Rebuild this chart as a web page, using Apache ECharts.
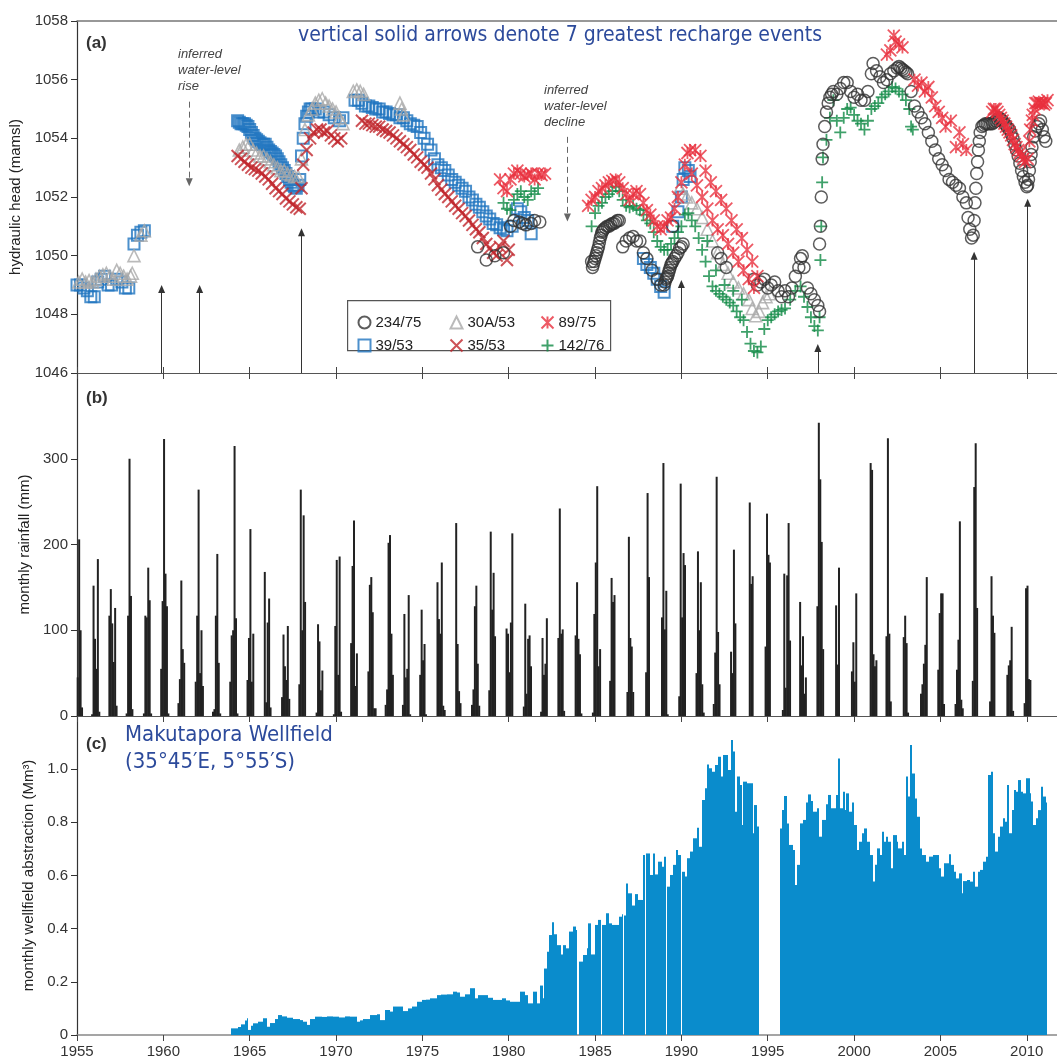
<!DOCTYPE html>
<html>
<head>
<meta charset="utf-8">
<script src="https://cdn.jsdelivr.net/npm/echarts@6/dist/echarts.min.js"></script>
<style>
html,body{margin:0;padding:0;background:#fff;}
#main{width:1057px;height:1061px;}
</style>
</head>
<body>
<div id="main"></div>
<script>
// ---- panel (a): hydraulic head, [decimal year, mamsl] ----
var head39 = [[1955.0,1049.0],[1955.2,1049.0],[1955.4,1048.9],[1955.6,1048.8],[1955.8,1048.6],[1956.0,1048.6],[1956.2,1049.1],[1956.4,1049.2],[1956.6,1049.3],[1956.8,1049.0],[1957.0,1049.0],[1957.3,1049.2],[1957.6,1049.1],[1957.8,1048.9],[1958.0,1048.9],[1958.3,1050.4],[1958.5,1050.7],[1958.7,1050.8],[1958.9,1050.85],
  [1964.3,1054.6],[1964.4,1054.55],[1964.5,1054.5],[1964.6,1054.5],[1964.7,1054.5],[1964.8,1054.45],[1964.9,1054.4],[1965.0,1054.3],[1965.1,1054.2],[1965.2,1054.1],[1965.3,1054.0],[1965.4,1053.95],[1965.5,1053.9],[1965.6,1053.85],[1965.7,1053.8],[1965.8,1053.8],[1965.9,1053.8],[1966.0,1053.7],[1966.1,1053.6],[1966.2,1053.55],[1966.3,1053.5],[1966.4,1053.45],[1966.5,1053.4],[1966.6,1053.3],[1966.7,1053.2],[1966.8,1053.1],[1966.9,1053.0],[1967.0,1052.9],[1967.1,1052.8],[1967.2,1052.7],[1967.3,1052.6],[1967.4,1052.5],[1967.5,1052.4],[1967.6,1052.35],[1967.7,1052.3],[1967.8,1052.4],[1967.9,1052.6],[1968.0,1053.4],[1968.1,1054.0],[1968.2,1054.5],[1968.3,1054.75],[1968.4,1054.9],[1968.5,1055.0],[1968.6,1055.0],[1968.8,1055.0],[1969.0,1054.9],[1969.3,1054.9],[1969.6,1054.8],[1969.9,1054.7],[1970.2,1054.6],[1970.4,1054.7],
  [1971.1,1055.3],[1971.3,1055.3],[1971.5,1055.2],[1971.7,1055.1],[1971.9,1055.1],[1972.1,1055.05],[1972.3,1055.0],[1972.5,1055.0],[1972.7,1054.9],[1972.9,1054.9],[1973.1,1054.85],[1973.3,1054.8],[1973.5,1054.8],[1973.7,1054.7],[1973.9,1054.7],[1974.1,1054.6],[1974.3,1054.5],[1974.5,1054.45],[1974.7,1054.4],[1974.9,1054.2],[1975.1,1054.0],[1975.3,1053.8],[1975.5,1053.6],[1975.7,1053.3],[1975.9,1053.1],[1976.1,1053.0],[1976.3,1052.9],[1976.5,1052.75],[1976.7,1052.6],[1976.9,1052.5],[1977.1,1052.4],[1977.3,1052.3],[1977.5,1052.2],[1977.7,1052.0],[1977.9,1051.9],[1978.1,1051.75],[1978.3,1051.65],[1978.5,1051.5],[1978.7,1051.35],[1978.9,1051.25],[1979.1,1051.1],[1979.3,1051.05],[1979.5,1050.95],[1979.7,1050.9],[1979.9,1050.85],[1980.2,1051.0],[1980.5,1051.6],[1980.7,1051.5],[1980.9,1051.3],[1981.1,1051.2],[1981.3,1050.75],
  [1987.8,1049.9],[1988.0,1049.7],[1988.2,1049.6],[1988.4,1049.4],[1988.6,1049.2],[1988.8,1048.95],[1989.0,1048.75],[1989.5,1051.0],[1989.8,1051.5],[1990.0,1052.0],[1990.1,1052.6],[1990.2,1053.0],[1990.4,1052.9],[1990.5,1052.7]];

var head30A = [[1955.1,1049.1],[1955.3,1049.2],[1955.5,1049.1],[1955.7,1049.15],[1955.9,1049.1],[1956.1,1049.2],[1956.3,1049.3],[1956.5,1049.35],[1956.7,1049.4],[1956.9,1049.3],[1957.1,1049.2],[1957.3,1049.5],[1957.5,1049.4],[1957.7,1049.3],[1957.9,1049.2],[1958.1,1049.3],[1958.2,1049.4],[1958.3,1050.0],[1958.7,1050.7],[1958.9,1050.85],
  [1964.4,1053.6],[1964.6,1053.7],[1964.8,1053.8],[1965.0,1053.8],[1965.2,1053.6],[1965.4,1053.5],[1965.6,1053.4],[1965.8,1053.4],[1966.0,1053.3],[1966.2,1053.2],[1966.4,1053.1],[1966.6,1053.0],[1966.8,1052.9],[1967.0,1052.9],[1967.2,1052.8],[1967.4,1052.75],[1967.6,1052.7],[1967.8,1052.7],[1968.0,1053.3],[1968.2,1054.3],[1968.4,1054.8],[1968.6,1055.0],[1968.8,1055.2],[1969.0,1055.3],[1969.2,1055.35],[1969.4,1055.2],[1969.6,1055.1],[1969.8,1055.0],[1970.0,1054.9],[1970.2,1054.7],[1970.4,1054.5],
  [1971.0,1055.6],[1971.2,1055.65],[1971.4,1055.6],[1971.6,1055.5],[1973.7,1055.2],[1973.8,1055.0],[1973.9,1054.8],
  [1989.9,1052.3],[1990.1,1052.1],[1990.3,1052.0],[1990.6,1051.8],[1990.9,1051.6],[1991.2,1051.3],[1991.5,1050.9],[1991.8,1050.5],[1992.1,1050.1],[1992.4,1049.7],[1992.7,1049.4],[1993.0,1049.1],[1993.3,1048.9],[1993.6,1048.7],[1993.9,1048.5],[1994.1,1048.2],[1994.3,1047.95],[1994.5,1048.1],[1994.7,1048.4],[1994.9,1048.6],[1995.1,1048.7]];

var head35 = [[1964.3,1053.4],[1964.5,1053.3],[1964.7,1053.2],[1964.9,1053.1],[1965.1,1053.0],[1965.3,1052.95],[1965.5,1052.9],[1965.7,1052.8],[1965.9,1052.7],[1966.1,1052.6],[1966.3,1052.45],[1966.5,1052.3],[1966.7,1052.2],[1966.9,1052.1],[1967.1,1051.95],[1967.3,1051.85],[1967.5,1051.75],[1967.7,1051.65],[1967.9,1051.6],[1968.0,1052.3],[1968.1,1053.1],[1968.3,1053.6],[1968.5,1054.0],[1968.7,1054.2],[1968.9,1054.3],[1969.1,1054.3],[1969.3,1054.2],[1969.5,1054.25],[1969.7,1054.1],[1969.9,1054.0],[1970.1,1053.9],[1970.3,1054.0],
  [1971.5,1054.6],[1971.7,1054.5],[1971.9,1054.5],[1972.1,1054.45],[1972.3,1054.4],[1972.5,1054.4],[1972.7,1054.3],[1972.9,1054.25],[1973.1,1054.2],[1973.3,1054.1],[1973.5,1054.0],[1973.7,1053.9],[1973.9,1053.8],[1974.1,1053.7],[1974.3,1053.6],[1974.5,1053.45],[1974.7,1053.35],[1974.9,1053.2],[1975.1,1053.1],[1975.3,1053.0],[1975.5,1052.8],[1975.7,1052.6],[1975.9,1052.4],[1976.1,1052.25],[1976.3,1052.1],[1976.5,1052.0],[1976.7,1051.85],[1976.9,1051.7],[1977.1,1051.6],[1977.3,1051.45],[1977.5,1051.35],[1977.7,1051.2],[1977.9,1051.05],[1978.1,1050.9],[1978.3,1050.8],[1978.5,1050.6],[1978.7,1050.4],[1978.9,1050.25],[1979.1,1050.1],[1979.3,1050.0],[1979.5,1050.3],[1979.7,1050.5],[1979.9,1049.85],[1980.0,1050.2]];

var head234 = [[1978.2,1050.3],[1978.7,1049.85],[1979.2,1050.0],[1979.7,1050.1],[1980.1,1051.0],[1980.3,1051.2],[1980.6,1051.15],[1980.8,1051.1],[1981.0,1051.05],[1981.3,1051.1],[1981.5,1051.2],[1981.8,1051.15],
  [1984.8,1049.8],[1984.85,1049.6],[1984.9,1049.7],[1984.95,1049.8],[1985.0,1049.9],[1985.05,1050.0],[1985.1,1050.1],[1985.15,1050.2],[1985.2,1050.3],[1985.25,1050.45],[1985.3,1050.6],[1985.35,1050.7],[1985.4,1050.8],[1985.45,1050.85],[1985.5,1050.9],[1985.6,1050.95],[1985.7,1051.0],[1985.8,1051.0],[1985.9,1051.05],[1986.0,1051.1],[1986.1,1051.1],[1986.2,1051.15],[1986.3,1051.2],[1986.4,1051.2],
  [1986.6,1050.3],[1986.8,1050.5],[1987.0,1050.6],[1987.2,1050.65],[1987.4,1050.5],[1987.6,1050.5],[1987.8,1050.1],[1988.0,1049.9],[1988.3,1049.5],[1988.6,1049.2],[1988.8,1049.0],
  [1989.0,1049.0],[1989.05,1049.1],[1989.1,1049.2],[1989.15,1049.25],[1989.2,1049.3],[1989.25,1049.4],[1989.3,1049.5],[1989.35,1049.6],[1989.4,1049.7],[1989.45,1049.75],[1989.5,1049.8],[1989.6,1049.9],[1989.7,1050.0],[1989.8,1050.1],[1989.9,1050.25],[1990.0,1050.3],[1990.1,1050.4],[1989.5,1051.0],
  [1992.1,1050.1],[1992.3,1049.9],[1992.6,1049.6],[1994.2,1049.2],[1994.4,1049.0],[1994.6,1049.1],[1994.8,1049.2],[1995.0,1048.9],[1995.2,1049.0],[1995.4,1049.1],[1995.6,1048.8],[1995.8,1048.6],[1996.0,1048.8],[1996.2,1048.6],[1996.4,1048.9],[1996.6,1049.3],[1996.8,1049.6],[1996.9,1049.9],[1997.0,1050.0],[1997.1,1049.6],[1997.3,1048.9],[1997.5,1048.7],[1997.7,1048.5],[1997.9,1048.3],[1998.0,1048.1],
  [1998.0,1050.4],[1998.05,1051.0],[1998.1,1052.0],[1998.15,1053.3],[1998.2,1053.8],[1998.3,1054.4],[1998.4,1054.9],[1998.5,1055.2],[1998.6,1055.4],[1998.7,1055.5],[1998.8,1055.6],[1999.0,1055.5],[1999.2,1055.7],[1999.4,1055.9],[1999.6,1055.9],[1999.8,1055.6],[2000.0,1055.4],[2000.2,1055.5],[2000.4,1055.3],[2000.6,1055.3],[2000.8,1055.6],[2001.0,1056.2],[2001.1,1056.55],[2001.3,1056.3],[2001.5,1056.1],[2001.7,1055.9],[2001.9,1056.0],[2002.1,1056.2],[2002.3,1056.3],[2002.5,1056.4],[2002.6,1056.45],[2002.7,1056.4],[2002.8,1056.35],[2002.9,1056.3],[2003.0,1056.25],[2003.1,1056.2],[2003.3,1055.6],[2003.5,1055.1],[2003.7,1054.9],[2003.9,1054.7],[2004.1,1054.5],[2004.3,1054.2],[2004.5,1053.9],[2004.7,1053.6],[2004.9,1053.3],[2005.1,1053.1],[2005.3,1052.9],[2005.5,1052.6],[2005.7,1052.5],[2005.9,1052.4],[2006.1,1052.3],[2006.3,1052.0],[2006.5,1051.8],[2006.6,1051.3],[2006.7,1050.9],[2006.8,1050.6],[2006.9,1050.7],[2006.95,1051.2],[2007.0,1051.8],[2007.05,1052.3],[2007.1,1052.8],[2007.15,1053.2],[2007.2,1053.6],[2007.25,1053.9],[2007.3,1054.2],[2007.4,1054.4],[2007.5,1054.45],[2007.6,1054.5],[2007.7,1054.5],[2007.8,1054.5],[2007.9,1054.5],[2008.0,1054.5],[2008.1,1054.55],[2008.2,1054.6],[2008.3,1054.65],[2008.4,1054.7],[2008.5,1054.65],[2008.6,1054.6],[2008.7,1054.5],[2008.8,1054.45],[2008.9,1054.35],[2009.0,1054.3],[2009.1,1054.15],[2009.2,1054.0],[2009.3,1053.8],[2009.4,1053.6],[2009.5,1053.4],[2009.6,1053.15],[2009.7,1052.9],[2009.8,1052.7],[2009.9,1052.5],[2010.0,1052.35],[2010.05,1052.4],[2010.1,1052.6],[2010.15,1052.9],[2010.2,1053.2],[2010.25,1053.45],[2010.3,1053.7],[2010.4,1054.05],[2010.5,1054.25],[2010.6,1054.4],[2010.7,1054.5],[2010.8,1054.6],[2010.9,1054.3],[2011.0,1054.05],[2011.1,1053.9]];

var head89 = [[1979.5,1052.6],[1979.7,1052.3],[1979.9,1052.2],[1980.1,1052.6],[1980.3,1052.8],[1980.5,1052.9],[1980.7,1052.8],[1980.9,1052.7],[1981.1,1052.75],[1981.3,1052.8],[1981.5,1052.6],[1981.7,1052.8],[1981.9,1052.75],[1982.1,1052.8],
  [1984.6,1051.7],[1984.8,1051.9],[1985.0,1052.0],[1985.2,1052.2],[1985.4,1052.3],[1985.6,1052.4],[1985.8,1052.5],[1986.0,1052.55],[1986.2,1052.6],[1986.4,1052.5],[1986.6,1052.3],[1986.8,1052.1],[1987.0,1051.9],[1987.2,1052.1],[1987.4,1052.2],[1987.6,1052.1],[1987.8,1051.8],[1988.0,1051.55],[1988.2,1051.4],[1988.4,1051.2],[1988.6,1051.0],[1988.8,1050.9],[1989.0,1051.0],[1989.2,1051.2],[1989.4,1051.3],[1989.6,1051.6],[1989.8,1052.0],[1990.0,1052.5],[1990.2,1053.1],[1990.35,1053.5],
  [1990.5,1053.6],[1990.8,1053.6],[1991.1,1053.4],[1991.4,1052.9],[1991.7,1052.5],[1992.0,1052.2],[1992.3,1051.9],[1992.6,1051.6],[1992.9,1051.2],[1993.2,1050.9],[1993.5,1050.6],[1993.8,1050.2],[1994.1,1049.8],
  [1990.6,1052.8],[1990.9,1052.4],[1991.2,1052.0],[1991.5,1051.6],[1991.8,1051.2],[1992.1,1050.9],[1992.4,1050.7],[1992.7,1050.4],[1993.0,1050.1],[1993.3,1049.8],[1993.6,1049.5],[1993.9,1049.2],[1994.2,1048.9],[1994.4,1049.3],
  [2001.9,1056.85],[2002.1,1057.0],[2002.3,1057.5],[2002.4,1057.3],[2002.6,1057.2],[2002.8,1057.1],[2003.5,1056.0],[2003.7,1055.8],[2003.9,1055.9],[2004.1,1055.6],[2004.3,1055.75],[2004.5,1055.4],[2004.7,1055.1],[2004.9,1054.9],[2005.1,1054.7],[2005.3,1054.4],[2005.6,1054.6],[2005.9,1053.7],[2006.1,1054.2],[2006.3,1053.8],[2006.5,1053.6],
  [2008.0,1054.9],[2008.1,1055.0],[2008.2,1055.0],[2008.3,1054.9],[2008.4,1054.8],[2008.5,1054.7],[2008.6,1054.6],[2008.7,1054.5],[2008.8,1054.4],[2008.9,1054.3],[2009.0,1054.2],[2009.1,1054.1],[2009.2,1053.95],[2009.3,1053.8],[2009.4,1053.7],[2009.5,1053.6],[2009.6,1053.5],[2009.7,1053.4],[2009.8,1053.3],[2009.9,1053.2],[2010.05,1053.3],[2010.15,1053.9],[2010.2,1054.3],[2010.3,1054.6],[2010.35,1054.8],[2010.45,1055.0],[2010.5,1055.2],[2010.6,1055.2],[2010.7,1055.25],[2010.8,1055.2],[2010.9,1055.2],[2011.0,1055.15],[2011.1,1055.2],[2011.2,1055.3]];

var head142 = [[1979.7,1051.8],[1979.9,1051.6],[1980.1,1051.55],[1980.3,1051.9],[1980.5,1052.1],[1980.7,1052.2],[1980.9,1052.0],[1981.1,1051.9],[1981.3,1052.2],[1981.5,1052.1],[1981.7,1052.3],
  [1984.8,1051.0],[1985.0,1051.45],[1985.2,1051.7],[1985.4,1051.8],[1985.6,1052.0],[1985.8,1052.1],[1986.0,1052.2],[1986.2,1052.35],[1986.4,1052.2],[1986.6,1051.9],[1986.8,1051.7],[1987.0,1051.65],[1987.2,1051.7],[1987.4,1051.6],[1987.6,1051.55],[1987.8,1051.4],[1988.0,1051.2],[1988.2,1051.1],[1988.4,1050.8],[1988.6,1050.5],[1988.8,1050.3],[1989.0,1050.2],[1989.2,1050.2],[1989.4,1050.4],[1989.6,1050.6],[1989.8,1050.8],[1990.0,1051.0],[1990.2,1051.4],[1990.4,1051.45],[1990.6,1051.2],[1990.8,1051.0],[1991.0,1050.6],[1991.2,1050.2],[1991.4,1049.8],[1991.6,1049.3],[1991.8,1048.95],[1992.0,1048.8],[1992.2,1048.7],[1992.4,1048.6],[1992.6,1048.5],[1992.8,1048.4],[1993.0,1048.3],[1993.2,1048.1],[1993.4,1047.9],[1993.6,1047.8],[1993.8,1047.4],[1994.0,1047.0],[1994.2,1046.75],[1994.4,1046.7],[1994.6,1046.9],[1994.8,1047.5],[1995.0,1047.8],[1995.2,1047.9],[1995.4,1048.0],[1995.6,1048.1],[1995.8,1048.15],[1996.0,1048.2],[1996.3,1048.5],[1996.6,1048.8],[1996.9,1048.95],[1997.1,1048.6],[1997.3,1048.25],[1997.5,1047.9],[1997.7,1047.6],[1997.9,1047.45],[1998.0,1047.9],
  [1991.5,1050.5],[1992.0,1049.5],[1992.5,1049.0],[1993.0,1048.8],[1993.5,1048.5],
  [1998.05,1049.85],[1998.1,1051.0],[1998.15,1052.5],[1998.2,1053.35],[1998.4,1053.95],[1998.6,1054.7],[1998.8,1055.3],[1999.0,1054.6],[1999.2,1054.2],[1999.4,1054.7],[1999.6,1055.0],[1999.8,1055.05],[2000.0,1054.8],[2000.2,1054.6],[2000.4,1054.5],[2000.6,1054.3],[2000.8,1054.6],[2001.0,1055.0],[2001.2,1055.1],[2001.4,1055.2],[2001.6,1055.4],[2001.8,1055.5],[2002.0,1055.6],[2002.2,1055.75],[2002.4,1055.7],[2002.6,1055.6],[2002.8,1055.5],[2003.0,1055.3],[2003.2,1055.0],[2003.3,1054.4],[2003.4,1054.3]];

// 7 greatest recharge events (solid arrows) and inferred changes (dashed arrows)
var rechargeYears = [1959.9, 1962.1, 1968.0, 1990.0, 1997.9, 2006.95, 2010.05];
var rechargeTips = [1048.86, 1048.86, 1050.8, 1049.03, 1046.85, 1050.0, 1051.8];
var inferredYears = [1961.5, 1983.4];
var inferredFrom = [1055.25, 1054.05];
var inferredTo = [1052.5, 1051.3];

// ---- panel (b): monthly rainfall (mm), one row per wet season Nov..Apr, labelled by the Jan year ----
var rainFirstSeason = 1955;
var rainSeasons = [
  [0,0,45,206,100,10],[2,152,90,55,183,5],[117,148,108,63,126,12],[3,117,300,140,8,0],[3,117,115,173,135,3],
  [55,134,323,166,128,3],[15,43,158,78,62,0],[40,117,264,50,100,35],[5,8,117,189,62,3],[40,94,100,315,114,3],
  [42,91,218,40,96,0],[168,16,109,137,10,0],[22,95,58,42,105,20],[37,264,100,234,133,0],[4,107,87,30,53,0],
  [2,105,182,48,186,5],[85,175,228,35,73,0],[52,153,162,121,9,9],[13,31,202,211,96,48],[13,119,45,55,141,2],
  [48,124,65,84,2,0],[156,113,96,179,12,7],[0,225,84,29,15,0],[13,31,128,152,61,12],[30,215,124,167,93,0],
  [102,96,51,109,213,0],[11,131,26,90,94,58],[5,91,48,61,114,0],[91,242,96,101,6,0],[94,156,90,72,3,0],
  [4,119,179,268,58,78],[41,161,133,141,0,0],[28,209,91,81,28,0],[0,51,260,162,0,0],[115,295,101,146,2,0],
  [23,271,115,190,176,0],[50,192,100,156,37,4],[14,74,279,98,37,0],[75,50,194,108,0,0],[0,249,154,163,0,0],
  [81,236,188,179,0,0],[7,166,33,164,225,88],[133,59,93,26,45,0],[128,342,276,203,78,0],[0,129,60,173,0,0],
  [52,86,40,143,0,0],[0,295,287,72,58,65],[93,324,96,17,0,0],[92,117,85,4,0,0],[26,37,61,83,162,0],
  [54,120,143,143,14,0],[14,54,89,227,19,9],[41,267,318,126,0,0],[17,163,117,97,0,0],[48,59,65,104,6,0],
  [15,149,152,43,42,0]
];

// ---- panel (c): monthly wellfield abstraction (Mm3), value holds until the next reading ----
var absYears = [1963.92,1964.34,1964.5,1964.7,1964.82,1964.92,1965.05,1965.21,1965.5,1965.79,1965.98,1966.2,1966.45,1966.66,1966.9,1967.14,1967.5,1967.91,1968.1,1968.3,1968.5,1968.78,1969.2,1969.5,1969.84,1970.2,1970.5,1970.81,
  1971.2,1971.4,1971.58,1971.97,1972.35,1972.55,1972.84,1973.13,1973.32,1973.71,1973.9,1974.19,1974.38,1974.67,1974.96,1975.2,1975.44,1975.83,1976.1,1976.41,1976.79,1977.0,1977.18,1977.47,1977.76,1978.05,1978.25,1978.53,1978.8,1979.11,1979.35,1979.59,1979.85,1980.07,1980.46,1980.65,1980.94,1981.14,1981.43,1981.62,1981.81,1981.97,
  1982.06,1982.2,1982.35,1982.49,1982.62,1982.82,1983.01,1983.16,1983.32,1983.51,1983.74,1983.9,1983.98,1984.05,1984.32,1984.51,1984.61,1984.75,1985.0,1985.19,1985.32,1985.38,1985.63,1985.83,1985.96,1986.15,1986.41,1986.54,1986.62,1986.67,1986.79,1986.93,1987.12,1987.31,1987.51,1987.7,1987.8,1987.88,1987.95,
  1988.18,1988.34,1988.47,1988.66,1988.86,1988.99,1989.1,1989.16,1989.34,1989.49,1989.69,1989.82,1989.95,1990.03,1990.21,1990.34,1990.5,1990.69,1990.88,1991.04,
  1991.17,1991.36,1991.46,1991.61,1991.75,1991.8,1991.94,1992.13,1992.32,1992.38,1992.61,1992.71,1992.85,1992.96,1993.08,1993.23,1993.39,1993.48,1993.58,1993.77,1993.97,1994.12,1994.22,1994.35,1994.47,
  1995.7,1995.84,1995.95,1996.09,1996.24,1996.44,1996.57,1996.67,1996.86,1997.05,1997.21,1997.34,1997.48,1997.63,1997.83,1997.98,1998.17,1998.37,1998.5,1998.64,1998.79,1998.95,1999.08,1999.18,1999.33,1999.47,1999.56,1999.72,1999.85,1999.99,
  2000.14,2000.3,2000.45,2000.6,2000.72,2000.91,2001.07,2001.2,2001.3,2001.49,2001.59,2001.72,2001.84,2001.98,2002.11,2002.27,2002.46,2002.57,2002.75,2002.88,2003.0,2003.13,2003.23,2003.38,2003.52,2003.65,2003.81,2003.96,
  2004.16,2004.35,2004.58,2004.77,2004.89,2005.06,2005.2,2005.35,2005.51,2005.64,2005.78,2005.93,2006.09,2006.22,2006.32,2006.51,2006.7,2006.86,2007.01,2007.19,2007.32,2007.48,2007.63,2007.77,2007.9,
  2008.06,2008.17,2008.31,2008.44,2008.6,2008.73,2008.83,2008.98,2009.12,2009.25,2009.37,2009.5,2009.64,2009.79,2009.95,2010.08,2010.18,2010.27,2010.37,2010.53,2010.66,2010.8,2010.95,2011.09,2011.14];
var absValues = [0.025,0.03,0.04,0.055,0.063,0.019,0.035,0.044,0.05,0.063,0.031,0.045,0.06,0.075,0.07,0.065,0.06,0.056,0.05,0.038,0.06,0.069,0.068,0.07,0.069,0.066,0.07,0.069,
  0.05,0.055,0.06,0.075,0.078,0.056,0.094,0.088,0.107,0.107,0.09,0.1,0.107,0.125,0.132,0.133,0.138,0.15,0.152,0.153,0.163,0.16,0.144,0.153,0.176,0.138,0.15,0.15,0.14,0.132,0.132,0.138,0.13,0.125,0.125,0.163,0.15,0.119,0.163,0.119,0.186,0.138,
  0.25,0.313,0.376,0.424,0.379,0.338,0.303,0.338,0.326,0.389,0.408,0.395,0,0.276,0.301,0.326,0.42,0.303,0.414,0.433,0,0.414,0.458,0.42,0.414,0.414,0.445,0.454,0,0.45,0.57,0.533,0.487,0.53,0.508,0.508,0.677,0,0.683,
  0.602,0.683,0.604,0.652,0.633,0.671,0,0.558,0.602,0.64,0.696,0.677,0,0.614,0.596,0.665,0.69,0.74,0.78,0.708,
  0.884,0.928,1.018,1.003,0.884,0.99,1.016,1.047,0.972,1.053,1.053,0.997,1.11,1.066,0.84,0.972,0.94,0.79,0.953,0.947,0.947,0.759,0.865,0.784,0,
  0.777,0.846,0.899,0.796,0.715,0.696,0.564,0.64,0.796,0.809,0.875,0.905,0.88,0.84,0.853,0.746,0.809,0.868,0.903,0.853,0.853,0.903,1.04,0.853,0.915,0.846,0.909,0.84,0.875,0.79,
  0.696,0.727,0.759,0.777,0.727,0.677,0.577,0.64,0.702,0.677,0.765,0.727,0.746,0.727,0.627,0.752,0.727,0.702,0.727,0.677,0.972,0.897,1.091,0.984,0.89,0.821,0.702,0.677,
  0.652,0.671,0.677,0.677,0.627,0.596,0.646,0.646,0.68,0.64,0.614,0.589,0.608,0.533,0.579,0.583,0.577,0.614,0.558,0.614,0.621,0.652,0.671,0.978,0.99,
  0.759,0.69,0.746,0.784,0.815,0.802,0.94,0.759,0.846,0.922,0.915,0.959,0.915,0.909,0.966,0.966,0.909,0.878,0.79,0.815,0.846,0.934,0.897,0.875,0];

var yearTicks = [1955, 1960, 1965, 1970, 1975, 1980, 1985, 1990, 1995, 2000, 2005, 2010];

// ---- build series data ----
var rainData = [];
rainSeasons.forEach(function (row, s) {
    var y = rainFirstSeason + s;
    row.forEach(function (v, i) {
        var x = (y - 1) + (10 + i) / 12 + 1 / 24;
        if (x > 1955 && v > 0) rainData.push([x, v]);
    });
});
// each reading becomes a block from its date to the next reading's date
var absBlocks = [];
for (var i = 0; i < absYears.length - 1; i++) {
    if (absValues[i] > 0) absBlocks.push([absYears[i], absYears[i + 1], absValues[i]]);
}

var arrowLines = rechargeYears.map(function (x, i) {
    return [{coord: [x, 1046]}, {coord: [x, rechargeTips[i]]}];
});
var inferredLines = inferredYears.map(function (x, i) {
    return [{coord: [x, inferredFrom[i]]}, {coord: [x, inferredTo[i]]}];
});

var FONT = 'Liberation Sans, Arial, sans-serif';
var NARROW = 'Liberation Sans Narrow, DejaVu Sans Condensed, sans-serif';
var SYM_X = 'path://M0,0L10,10M10,0L0,10';
var SYM_AST = 'path://M0,0L10,10M10,0L0,10M5,0L5,10';
var SYM_PLUS = 'path://M5,0L5,10M0,5L10,5';

function xAxisBase(grid) {
    return {
        type: 'value', gridIndex: grid, min: 1955, max: 2011.75, interval: 5,
        splitLine: {show: false},
        axisLabel: {show: false},
        axisTick: {show: true, inside: true, length: 6, lineStyle: {color: '#444'}},
        axisLine: {lineStyle: {color: '#555', width: 1.2}}
    };
}
function yAxisBase(grid) {
    return {
        type: 'value', gridIndex: grid,
        splitLine: {show: false},
        nameLocation: 'middle',
        nameTextStyle: {fontSize: 15, color: '#222', fontFamily: FONT},
        axisLine: {show: true, lineStyle: {color: '#333', width: 1.2}},
        axisTick: {show: true, length: 6, lineStyle: {color: '#333'}},
        axisLabel: {fontSize: 15, color: '#333', fontFamily: FONT, margin: 9}
    };
}
function headSeries(name, data, symbol, colour, size, width, z) {
    return {
        name: name, type: 'scatter', xAxisIndex: 0, yAxisIndex: 0,
        data: data, symbol: symbol, symbolSize: size, z: z,
        itemStyle: {color: 'none', borderColor: colour, borderWidth: width},
        emphasis: {disabled: true}
    };
}

var chart = echarts.init(document.getElementById('main'));

var xa0 = xAxisBase(0);
var xa1 = xAxisBase(0);
xa1.position = 'top';
xa1.axisTick = {show: false};
xa1.axisLine = {lineStyle: {color: '#777', width: 1.5}};
var xa2 = xAxisBase(1);
xa2.axisTick = {show: true, inside: false, length: 6, lineStyle: {color: '#444'}};
var xa3 = xAxisBase(1);
xa3.position = 'top';
xa3.axisLine = {show: false};
var xa4 = xAxisBase(2);
xa4.axisTick = {show: true, inside: false, length: 6, lineStyle: {color: '#444'}};
xa4.axisLine = {lineStyle: {color: '#888', width: 1.5}};
xa4.axisLabel = {
    show: true, fontSize: 15, color: '#333', fontFamily: FONT, margin: 9,
    showMaxLabel: false,
    formatter: function (v) { return yearTicks.indexOf(v) >= 0 ? String(v) : ''; }
};

var ya0 = yAxisBase(0);
ya0.min = 1046; ya0.max = 1058; ya0.interval = 2;
ya0.name = 'hydraulic head (mamsl)'; ya0.nameGap = 43;
ya0.axisLabel.formatter = function (v) { return String(v); };
var ya1 = yAxisBase(1);
ya1.min = 0; ya1.max = 400; ya1.interval = 100;
ya1.name = 'monthly rainfall (mm)'; ya1.nameGap = 38;
ya1.axisLabel.showMaxLabel = false;
var ya2 = yAxisBase(2);
ya2.min = 0; ya2.max = 1.2; ya2.interval = 0.2;
ya2.name = 'monthly wellfield abstraction (Mm\u00b3)'; ya2.nameGap = 38;
ya2.axisLabel.showMaxLabel = false;
ya2.axisLabel.formatter = function (v) { return v === 0 ? '0' : v.toFixed(1); };

var legendText = {fontSize: 15, color: '#222', fontFamily: FONT};

var option = {
    animation: false,
    backgroundColor: '#fff',
    grid: [
        {left: 77, right: 0, top: 21, height: 352},
        {left: 77, right: 0, top: 373, height: 343},
        {left: 77, right: 0, top: 716, height: 319}
    ],
    xAxis: [xa0, xa1, xa2, xa3, xa4],
    yAxis: [ya0, ya1, ya2],
    legend: [
        {data: ['234/75', '39/53'], orient: 'vertical', left: 351, top: 309, itemWidth: 12, itemHeight: 12, itemGap: 6, textStyle: legendText, z: 6},
        {data: ['30A/53', '35/53'], orient: 'vertical', left: 443, top: 309, itemWidth: 12, itemHeight: 12, itemGap: 6, textStyle: legendText, z: 6},
        {data: ['89/75', '142/76'], orient: 'vertical', left: 534, top: 309, itemWidth: 12, itemHeight: 12, itemGap: 6, textStyle: legendText, z: 6}
    ],
    graphic: [
        {type: 'rect', left: 347, top: 300, z: 5, shape: {width: 263, height: 50}, style: {fill: '#fff', stroke: '#555', lineWidth: 1.2}},
        {type: 'text', left: 298, top: 25, style: {text: 'vertical solid arrows denote 7 greatest recharge events', fill: '#2c4a9b', font: '21px ' + NARROW}},
        {type: 'text', left: 86, top: 35, style: {text: '(a)', fill: '#333', font: 'bold 17px ' + FONT}},
        {type: 'text', left: 86, top: 390, style: {text: '(b)', fill: '#333', font: 'bold 17px ' + FONT}},
        {type: 'text', left: 86, top: 736, style: {text: '(c)', fill: '#333', font: 'bold 17px ' + FONT}},
        {type: 'text', left: 178, top: 46, style: {text: 'inferred\nwater-level\nrise', fill: '#444', font: 'italic 13px ' + FONT, lineHeight: 16}},
        {type: 'text', left: 544, top: 82, style: {text: 'inferred\nwater-level\ndecline', fill: '#444', font: 'italic 13px ' + FONT, lineHeight: 16}},
        {type: 'text', left: 125, top: 722, style: {text: 'Makutapora Wellfield\n(35\u00b045\u2032E, 5\u00b055\u2032S)', fill: '#2c4a9b', font: '22px ' + NARROW, lineHeight: 27}}
    ],
    series: [
        headSeries('39/53', head39, 'rect', '#1f74bf', 11, 2, 2),
        headSeries('30A/53', head30A, 'triangle', '#a9a9a9', 12, 1.6, 3),
        headSeries('35/53', head35, SYM_X, '#c1272d', 12, 2, 4),
        headSeries('142/76', head142, SYM_PLUS, '#0f8a45', 12, 1.8, 5),
        headSeries('234/75', head234, 'circle', '#333333', 12, 1.5, 6),
        headSeries('89/75', head89, SYM_AST, '#e8303d', 12, 1.8, 7),
        {
            type: 'scatter', xAxisIndex: 0, yAxisIndex: 0, data: [], silent: true,
            markLine: {
                silent: true, symbol: ['none', 'triangle'], symbolSize: [7, 8],
                label: {show: false},
                lineStyle: {color: '#333', width: 1, type: 'solid'},
                data: arrowLines
            }
        },
        {
            type: 'scatter', xAxisIndex: 0, yAxisIndex: 0, data: [], silent: true,
            markLine: {
                silent: true, symbol: ['none', 'triangle'], symbolSize: [7, 8],
                label: {show: false},
                lineStyle: {color: '#666', width: 1, type: [6, 4]},
                data: inferredLines
            }
        },
        {
            name: 'rainfall', type: 'bar', xAxisIndex: 2, yAxisIndex: 1,
            data: rainData, barWidth: 2,
            itemStyle: {color: '#222'}
        },
        {
            name: 'abstraction', type: 'custom', xAxisIndex: 4, yAxisIndex: 2,
            data: absBlocks, clip: true,
            encode: {x: [0, 1], y: 2},
            renderItem: function (params, api) {
                var p0 = api.coord([api.value(0), api.value(2)]);
                var p1 = api.coord([api.value(1), 0]);
                var x0 = Math.round(p0[0]);
                var x1 = Math.round(p1[0]);
                return {
                    type: 'rect',
                    shape: {x: x0, y: p0[1], width: Math.max(1, x1 - x0), height: p1[1] - p0[1]},
                    style: {fill: '#0a8ccc'}
                };
            }
        }
    ]
};
chart.setOption(option);
</script>
</body>
</html>
